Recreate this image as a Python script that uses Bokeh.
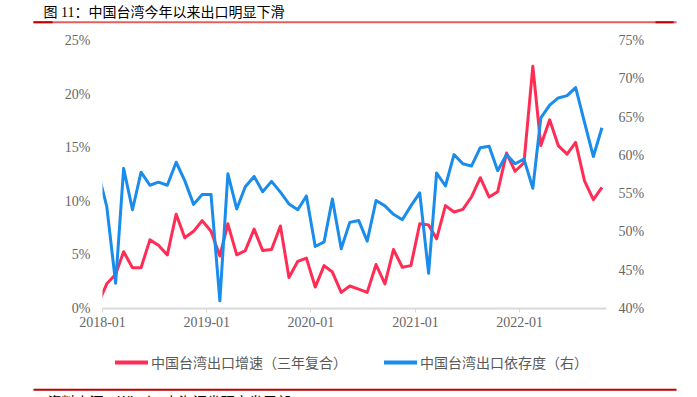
import pandas as pd
from bokeh.plotting import figure
from bokeh.models import (Range1d, LinearAxis, Legend, LegendItem, PrintfTickFormatter,
                          DatetimeTickFormatter, FixedTicker)
from bokeh.layouts import column
from bokeh.embed import file_html
from bokeh.resources import INLINE
from bokeh.core.properties import value

# ---------------- data ----------------
months = [
    "2017-12",
    "2018-01", "2018-02", "2018-03", "2018-04", "2018-05", "2018-06",
    "2018-07", "2018-08", "2018-09", "2018-10", "2018-11", "2018-12",
    "2019-01", "2019-02", "2019-03", "2019-04", "2019-05", "2019-06",
    "2019-07", "2019-08", "2019-09", "2019-10", "2019-11", "2019-12",
    "2020-01", "2020-02", "2020-03", "2020-04", "2020-05", "2020-06",
    "2020-07", "2020-08", "2020-09", "2020-10", "2020-11", "2020-12",
    "2021-01", "2021-02", "2021-03", "2021-04", "2021-05", "2021-06",
    "2021-07", "2021-08", "2021-09", "2021-10", "2021-11", "2021-12",
    "2022-01", "2022-02", "2022-03", "2022-04", "2022-05", "2022-06",
    "2022-07", "2022-08", "2022-09", "2022-10",
]
# 中国台湾出口增速（三年复合）, %  (left axis)
export_growth = [
    0.4,
    2.3, 3.2, 5.3, 3.8, 3.8, 6.4, 5.9, 5.0, 8.8, 6.6, 7.2, 8.2,
    7.2, 4.9, 7.9, 5.0, 5.4, 7.4, 5.4, 5.5, 7.7, 2.9, 4.4, 4.7,
    2.0, 4.0, 3.4, 1.5, 2.1, 1.8, 1.5, 4.1, 2.3, 5.5, 3.85, 4.0,
    7.9, 7.8, 6.5, 9.6, 9.0, 9.25, 10.4, 12.2, 10.4, 10.9, 14.5, 12.8,
    13.6, 22.6, 15.2, 17.6, 15.2, 14.4, 15.5, 11.9, 10.15, 11.3,
]
# 中国台湾出口依存度（右）, %  (right axis)
export_dependence = [
    57.9,
    53.3, 43.3, 58.3, 52.9, 57.8, 56.1, 56.5, 56.1, 59.1, 56.7, 53.6, 54.9,
    54.9, 41.0, 57.6, 53.0, 55.9, 57.25, 55.25, 56.6, 55.2, 53.65, 52.9, 54.7,
    48.1, 48.7, 54.3, 47.8, 51.25, 51.5, 48.8, 54.1, 53.4, 52.3, 51.6, 53.4,
    55.1, 44.6, 57.7, 56.0, 60.1, 58.9, 58.6, 61.0, 61.2, 58.0, 60.1, 58.9,
    59.5, 55.7, 64.9, 66.55, 67.5, 67.8, 68.85, 64.3, 59.85, 63.6,
]
left_ticks = [0, 5, 10, 15, 20, 25]
right_ticks = [40, 45, 50, 55, 60, 65, 70, 75]
year_ticks = ["2018-01-01", "2019-01-01", "2020-01-01", "2021-01-01", "2022-01-01"]

title_text = "图 11：中国台湾今年以来出口明显下滑"
source_text = "资料来源：Wind，上海证券研究发展部"
label_growth = "中国台湾出口增速（三年复合）"
label_dep = "中国台湾出口依存度（右）"

RED = "#FF2D55"
BLUE = "#1A8CEB"
GRAY_TXT = "#666666"
SERIF = "Liberation Serif"
CJK = "Noto Sans CJK SC"

# mid-month positions
x = [pd.Timestamp(m + "-01") + pd.Timedelta(days=15) for m in months]

W = 697
H_HDR, H_MAIN, H_FTR = 30, 306, 61


def deco_fig(h):
    f = figure(width=W, height=h, x_range=Range1d(0, W), y_range=Range1d(h, 0),
               output_backend="svg", toolbar_location=None, min_border=0,
               x_axis_type=None, y_axis_type=None, outline_line_color=None)
    f.grid.visible = False
    f.frame_align = False
    return f


# ---------------- header ----------------
hdr = deco_fig(H_HDR)
hdr.text(x=[43], y=[12], text=[title_text],
         text_font=value("'Liberation Serif', 'Noto Sans CJK SC'"),
         text_font_size="14px", text_baseline="middle", text_align="left",
         text_color="#000000")
hdr.segment(x0=[33], y0=[21.7], x1=[676], y1=[21.7], line_color="#E06060", line_width=2)
hdr.segment(x0=[33, 655], y0=[21.7, 21.7], x1=[52, 673], y1=[21.7, 21.7],
            line_color="#C00000", line_width=2)

# ---------------- main chart ----------------
p = figure(width=W, height=H_MAIN, x_axis_type="datetime",
           x_range=Range1d(pd.Timestamp("2018-01-01"), pd.Timestamp("2022-11-01")),
           y_range=Range1d(0, 25),
           output_backend="svg", toolbar_location=None,
           min_border_left=102, min_border_right=91, min_border_top=10, min_border_bottom=28)
p.frame_align = False
p.extra_y_ranges = {"right": Range1d(40, 75)}
p.outline_line_color = None
p.grid.visible = False
p.background_fill_color = "white"
p.border_fill_color = "white"

r1 = p.line(x, export_growth, line_color=RED, line_width=3, line_join="round")
r2 = p.line(x, export_dependence, line_color=BLUE, line_width=3, line_join="round",
            y_range_name="right")

xa = p.xaxis[0]
xa.ticker = FixedTicker(ticks=[pd.Timestamp(t).value / 1e6 for t in year_ticks])
xa.formatter = DatetimeTickFormatter(years="%Y-%m", months="%Y-%m", days="%Y-%m")
xa.axis_line_color = "#D9D9D9"
xa.axis_line_width = 2
xa.major_tick_line_color = "#D9D9D9"
xa.major_tick_in = 0
xa.major_tick_out = 4
xa.minor_tick_line_color = None
xa.minor_tick_out = 0
xa.major_label_text_font = SERIF
xa.major_label_text_font_size = "14px"
xa.major_label_text_color = GRAY_TXT
xa.major_label_standoff = 4

ya = p.yaxis[0]
ya.ticker = FixedTicker(ticks=left_ticks)
ya.formatter = PrintfTickFormatter(format="%d%%")
ya.axis_line_color = None
ya.major_tick_line_color = None
ya.minor_tick_line_color = None
ya.major_tick_out = 0
ya.minor_tick_out = 0
ya.major_label_text_font = SERIF
ya.major_label_text_font_size = "14px"
ya.major_label_text_color = GRAY_TXT
ya.major_label_standoff = 12

ra = LinearAxis(y_range_name="right", ticker=FixedTicker(ticks=right_ticks),
                formatter=PrintfTickFormatter(format="%d%%"))
ra.axis_line_color = None
ra.major_tick_line_color = None
ra.minor_tick_line_color = None
ra.major_tick_out = 0
ra.minor_tick_out = 0
ra.major_label_text_font = SERIF
ra.major_label_text_font_size = "14px"
ra.major_label_text_color = GRAY_TXT
ra.major_label_standoff = 12
p.add_layout(ra, "right")

# ---------------- footer: legend, rule, source ----------------
ftr = deco_fig(H_FTR)
# legend carriers (placed off-canvas; only their legend samples are visible)
lg1 = ftr.line(x=[-60, -40], y=[-60, -60], line_color=RED, line_width=4, line_cap="round")
lg2 = ftr.line(x=[-60, -40], y=[-60, -60], line_color=BLUE, line_width=4, line_cap="round")
legend = Legend(items=[LegendItem(label=label_growth, renderers=[lg1]),
                       LegendItem(label=label_dep, renderers=[lg2])],
                orientation="horizontal", location=(115, H_FTR - 16 - 20),
                label_text_font=CJK, label_text_font_size="14px",
                label_text_color="#595959", glyph_width=33, glyph_height=20,
                label_standoff=3, spacing=37, padding=0, margin=0,
                border_line_color=None, background_fill_alpha=0)
ftr.add_layout(legend)
ftr.segment(x0=[33], y0=[53.3], x1=[676], y1=[53.3], line_color="#C00000", line_width=2)
ftr.text(x=[47], y=[64], text=[source_text], text_font=value(CJK),
         text_font_size="14px", text_baseline="middle", text_align="left",
         text_color="#000000")

layout = column(hdr, p, ftr, spacing=0)
open("out.html", "w").write(file_html(layout, INLINE))
